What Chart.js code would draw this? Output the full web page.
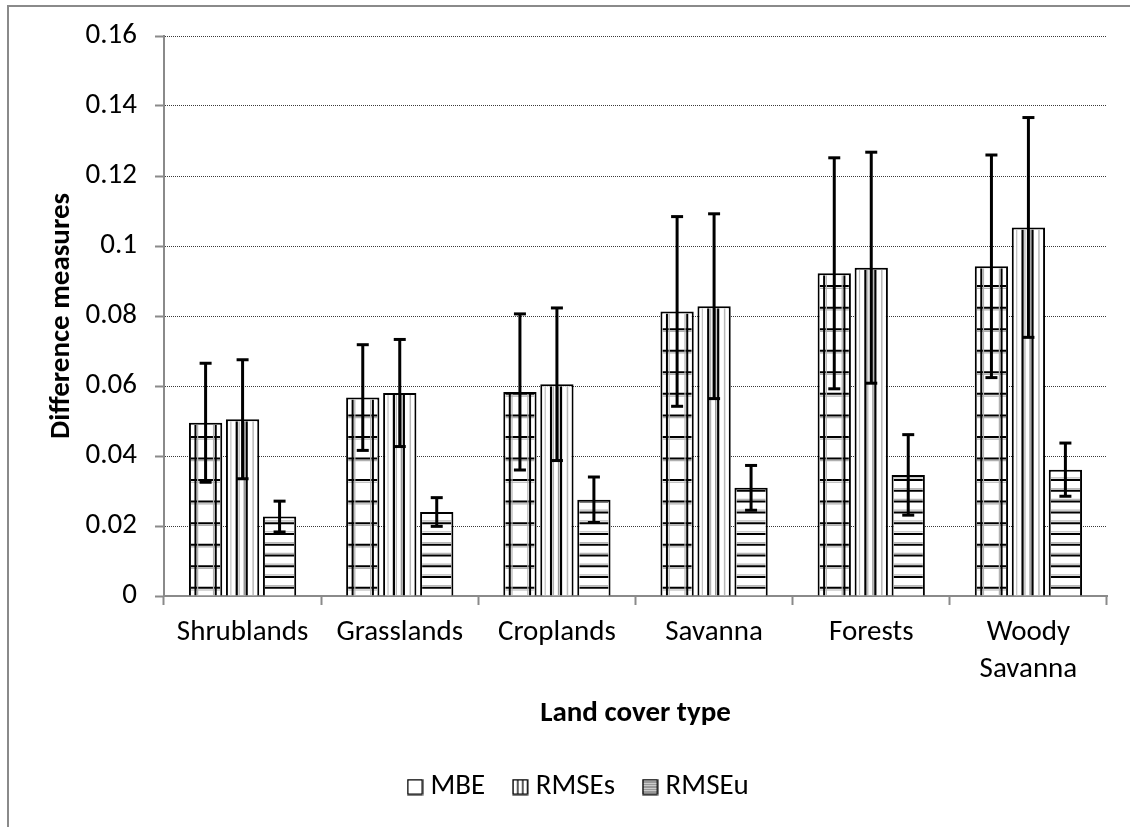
<!DOCTYPE html>
<html>
<head>
<meta charset="utf-8">
<title>Difference measures by land cover type</title>
<script src="https://cdn.jsdelivr.net/npm/chart.js@4/dist/chart.umd.min.js"></script>
<style>
  html, body { margin: 0; padding: 0; background: #ffffff; }
  #wrap { position: relative; width: 1130px; height: 827px; overflow: hidden; background: #ffffff; }
  #frame { position: absolute; left: 7px; top: 5px; width: 1300px; height: 1000px;
           border-left: 2px solid #8a8a8a; border-top: 2px solid #8a8a8a; box-sizing: border-box; }
  #chart { position: absolute; left: 0; top: 0; display: block; }
</style>
</head>
<body>
<div id="wrap">
  <div id="frame"></div>
  <canvas id="chart" width="1130" height="827"></canvas>
</div>
<script>
// Land cover categories (x axis)
const categories = ['Shrublands', 'Grasslands', 'Croplands', 'Savanna', 'Forests', ['Woody', 'Savanna']];

// Series names
const seriesNames = ['MBE', 'RMSEs', 'RMSEu'];

// Mean values per land cover type
const mbeValues   = [0.0495, 0.0567, 0.0583, 0.0813, 0.0922, 0.0942];
const rmsesValues = [0.0505, 0.0580, 0.0605, 0.0828, 0.0938, 0.1053];
const rmseuValues = [0.0227, 0.0240, 0.0275, 0.0309, 0.0346, 0.0361];

// Error bar half-lengths (± one standard deviation)
const mbeErrors   = [0.0170, 0.0151, 0.0223, 0.0271, 0.0330, 0.0318];
const rmsesErrors = [0.0170, 0.0153, 0.0218, 0.0264, 0.0330, 0.0314];
const rmseuErrors = [0.0044, 0.0041, 0.0065, 0.0064, 0.0115, 0.0076];

// Y axis tick labels
const yTickLabels = ['0', '0.02', '0.04', '0.06', '0.08', '0.1', '0.12', '0.14', '0.16'];

const FONT = 'Carlito, Lato, "Liberation Sans", sans-serif';
const FONT_SIZE = 29;
const AXIS_GREY = '#8a8a8a';
const LEGEND_START_X = 414;

const seriesValues = [mbeValues, rmsesValues, rmseuValues];
const seriesErrors = [mbeErrors, rmsesErrors, rmseuErrors];
const seriesFills  = ['grid', 'vertical', 'horizontal'];

// Small hatched swatches for the legend
function makeSwatch(kind) {
  const c = document.createElement('canvas');
  c.width = 17; c.height = 17;
  const g = c.getContext('2d');
  g.fillStyle = '#fff';
  g.fillRect(0, 0, 17, 17);
  if (kind === 'vertical') {
    g.strokeStyle = '#222';
    g.lineWidth = 1.5;
    [6, 11].forEach(x => { g.beginPath(); g.moveTo(x, 1); g.lineTo(x, 16); g.stroke(); });
  } else if (kind === 'horizontal') {
    g.strokeStyle = '#333';
    g.lineWidth = 1;
    for (let y = 3.5; y < 16; y += 2.5) { g.beginPath(); g.moveTo(1, y); g.lineTo(16, y); g.stroke(); }
  }
  g.strokeStyle = '#000';
  g.lineWidth = 1.5;
  g.strokeRect(1.25, 1.25, 14.5, 14.5);
  return c;
}
const legendSwatches = seriesFills.map(makeSwatch);

// Hatching inside each bar, phased from the zero line
function hatchBar(ctx, kind, L, R, T, B) {
  if (B - T < 1) return;
  ctx.save();
  ctx.beginPath();
  ctx.rect(L, T, R - L, B - T);
  ctx.clip();
  const h = (y, color, w) => { ctx.strokeStyle = color; ctx.lineWidth = w; ctx.beginPath(); ctx.moveTo(L, y); ctx.lineTo(R, y); ctx.stroke(); };
  const v = (x, color, w) => { ctx.strokeStyle = color; ctx.lineWidth = w; ctx.beginPath(); ctx.moveTo(x, T); ctx.lineTo(x, B); ctx.stroke(); };
  const w = R - L;
  if (kind === 'grid') {
    for (let y = B - 7.7; y > T - 2; y -= 21.55) {
      h(y, '#000', 2);
      h(y + 2.2, '#b0b0b0', 1.2);
    }
    v(L + 4.5, '#000', 2);
    v(L + 6.7, '#b0b0b0', 1.2);
    v(R - 4.5, '#000', 2);
    v(R - 6.7, '#b0b0b0', 1.2);
  } else if (kind === 'vertical') {
    v(L + w * 0.30, '#000', 2.2);
    v(L + w * 0.30 + 2.4, '#b0b0b0', 1.2);
    v(L + w * 0.64, '#000', 2.2);
    v(L + w * 0.64 - 2.4, '#9a9a9a', 1.5);
    v(L + w * 0.86, '#b8b8b8', 1.5);
    v(L + w * 0.10, '#c0c0c0', 1.2);
  } else {
    for (let y = B - 7.7; y > T - 2; y -= 10.775) {
      h(y, '#000', 2);
      h(y - 2.2, '#b8b8b8', 1.2);
    }
  }
  ctx.restore();
}

const hatchPlugin = {
  id: 'hatch',
  afterDatasetDraw(chart, args) {
    const ctx = chart.ctx;
    const kind = seriesFills[args.index];
    const bw = 2;
    args.meta.data.forEach(bar => {
      const p = bar.getProps(['x', 'y', 'base', 'width'], true);
      const L = p.x - p.width / 2 + bw, R = p.x + p.width / 2 - bw;
      const T = Math.min(p.y, p.base) + bw, B = Math.max(p.y, p.base);
      hatchBar(ctx, kind, L, R, T, B);
    });
  }
};

const errorBarPlugin = {
  id: 'errorBars',
  afterDatasetsDraw(chart) {
    const ctx = chart.ctx;
    const yScale = chart.scales.y;
    ctx.save();
    ctx.strokeStyle = '#000';
    ctx.lineCap = 'butt';
    chart.data.datasets.forEach((ds, i) => {
      const meta = chart.getDatasetMeta(i);
      meta.data.forEach((bar, j) => {
        const v = ds.data[j], e = seriesErrors[i][j];
        const x = bar.x;
        const yHi = yScale.getPixelForValue(v + e);
        const yLo = yScale.getPixelForValue(v - e);
        ctx.lineWidth = 3;
        ctx.beginPath(); ctx.moveTo(x, yHi); ctx.lineTo(x, yLo); ctx.stroke();
        ctx.beginPath(); ctx.moveTo(x - 6, yHi); ctx.lineTo(x + 6, yHi); ctx.stroke();
        ctx.beginPath(); ctx.moveTo(x - 6, yLo); ctx.lineTo(x + 6, yLo); ctx.stroke();
      });
    });
    ctx.restore();
  }
};

// Place the legend row so that it starts at a fixed x position
const legendPlacePlugin = {
  id: 'legendPlace',
  afterLayout(chart) {
    const lg = chart.legend;
    if (!lg || !lg.lineWidths) return;
    const pad = lg.options.labels.padding;
    const startX = (lg.left + pad + lg.right - lg.lineWidths[0]) / 2;
    const dx = LEGEND_START_X - startX;
    lg.left += dx;
    lg.right += dx;
  }
};

new Chart(document.getElementById('chart'), {
  type: 'bar',
  data: {
    labels: categories,
    datasets: seriesNames.map((name, i) => ({
      label: name,
      data: seriesValues[i],
      backgroundColor: '#ffffff',
      borderColor: '#000000',
      borderWidth: 2,
      categoryPercentage: 0.706,
      barPercentage: 0.9
    }))
  },
  options: {
    responsive: false,
    animation: false,
    devicePixelRatio: 1,
    layout: { padding: { left: 10, right: 23, top: 36, bottom: 15.5 } },
    plugins: {
      tooltip: { enabled: false },
      legend: {
        position: 'bottom',
        labels: {
          usePointStyle: true,
          pointStyleWidth: 2,
          padding: 34,
          color: '#000',
          font: { family: FONT, size: FONT_SIZE },
          generateLabels(chart) {
            const items = Chart.defaults.plugins.legend.labels.generateLabels(chart);
            items.forEach((it, i) => { it.pointStyle = legendSwatches[i]; });
            return items;
          }
        }
      }
    },
    scales: {
      x: {
        offset: true,
        ticks: {
          color: '#000',
          font: { family: FONT, size: FONT_SIZE, lineHeight: 1.276 },
          padding: 9.5,
          autoSkip: false,
          maxRotation: 0
        },
        grid: {
          offset: true,
          drawOnChartArea: false,
          drawTicks: true,
          tickLength: 9,
          tickColor: AXIS_GREY,
          tickWidth: 2,
          tickBorderDash: []
        },
        border: { color: AXIS_GREY, width: 2 },
        title: {
          display: true,
          text: 'Land cover type',
          color: '#000',
          font: { family: FONT, size: FONT_SIZE, weight: 'bold' },
          padding: { top: 0, bottom: 7.1 }
        },
        afterFit(scale) { scale.height = 142.5; }
      },
      y: {
        min: 0,
        max: 0.16,
        ticks: {
          stepSize: 0.02,
          color: '#000',
          font: { family: FONT, size: FONT_SIZE },
          padding: 18,
          callback: (value, index) => yTickLabels[index]
        },
        grid: {
          color: ctx => (ctx.tick && ctx.tick.value === 0) ? 'rgba(0,0,0,0)' : '#3a3a3a',
          lineWidth: 1,
          drawTicks: true,
          tickLength: 9,
          tickColor: AXIS_GREY,
          tickWidth: 2,
          tickBorderDash: []
        },
        border: { color: AXIS_GREY, width: 2, dash: [1, 1] },
        title: {
          display: true,
          text: 'Difference measures',
          color: '#000',
          font: { family: FONT, size: FONT_SIZE, weight: 'bold' },
          padding: { top: 34, bottom: 0 }
        },
        afterFit(scale) { scale.width = 154; }
      }
    }
  },
  plugins: [hatchPlugin, errorBarPlugin, legendPlacePlugin]
});
</script>
</body>
</html>
